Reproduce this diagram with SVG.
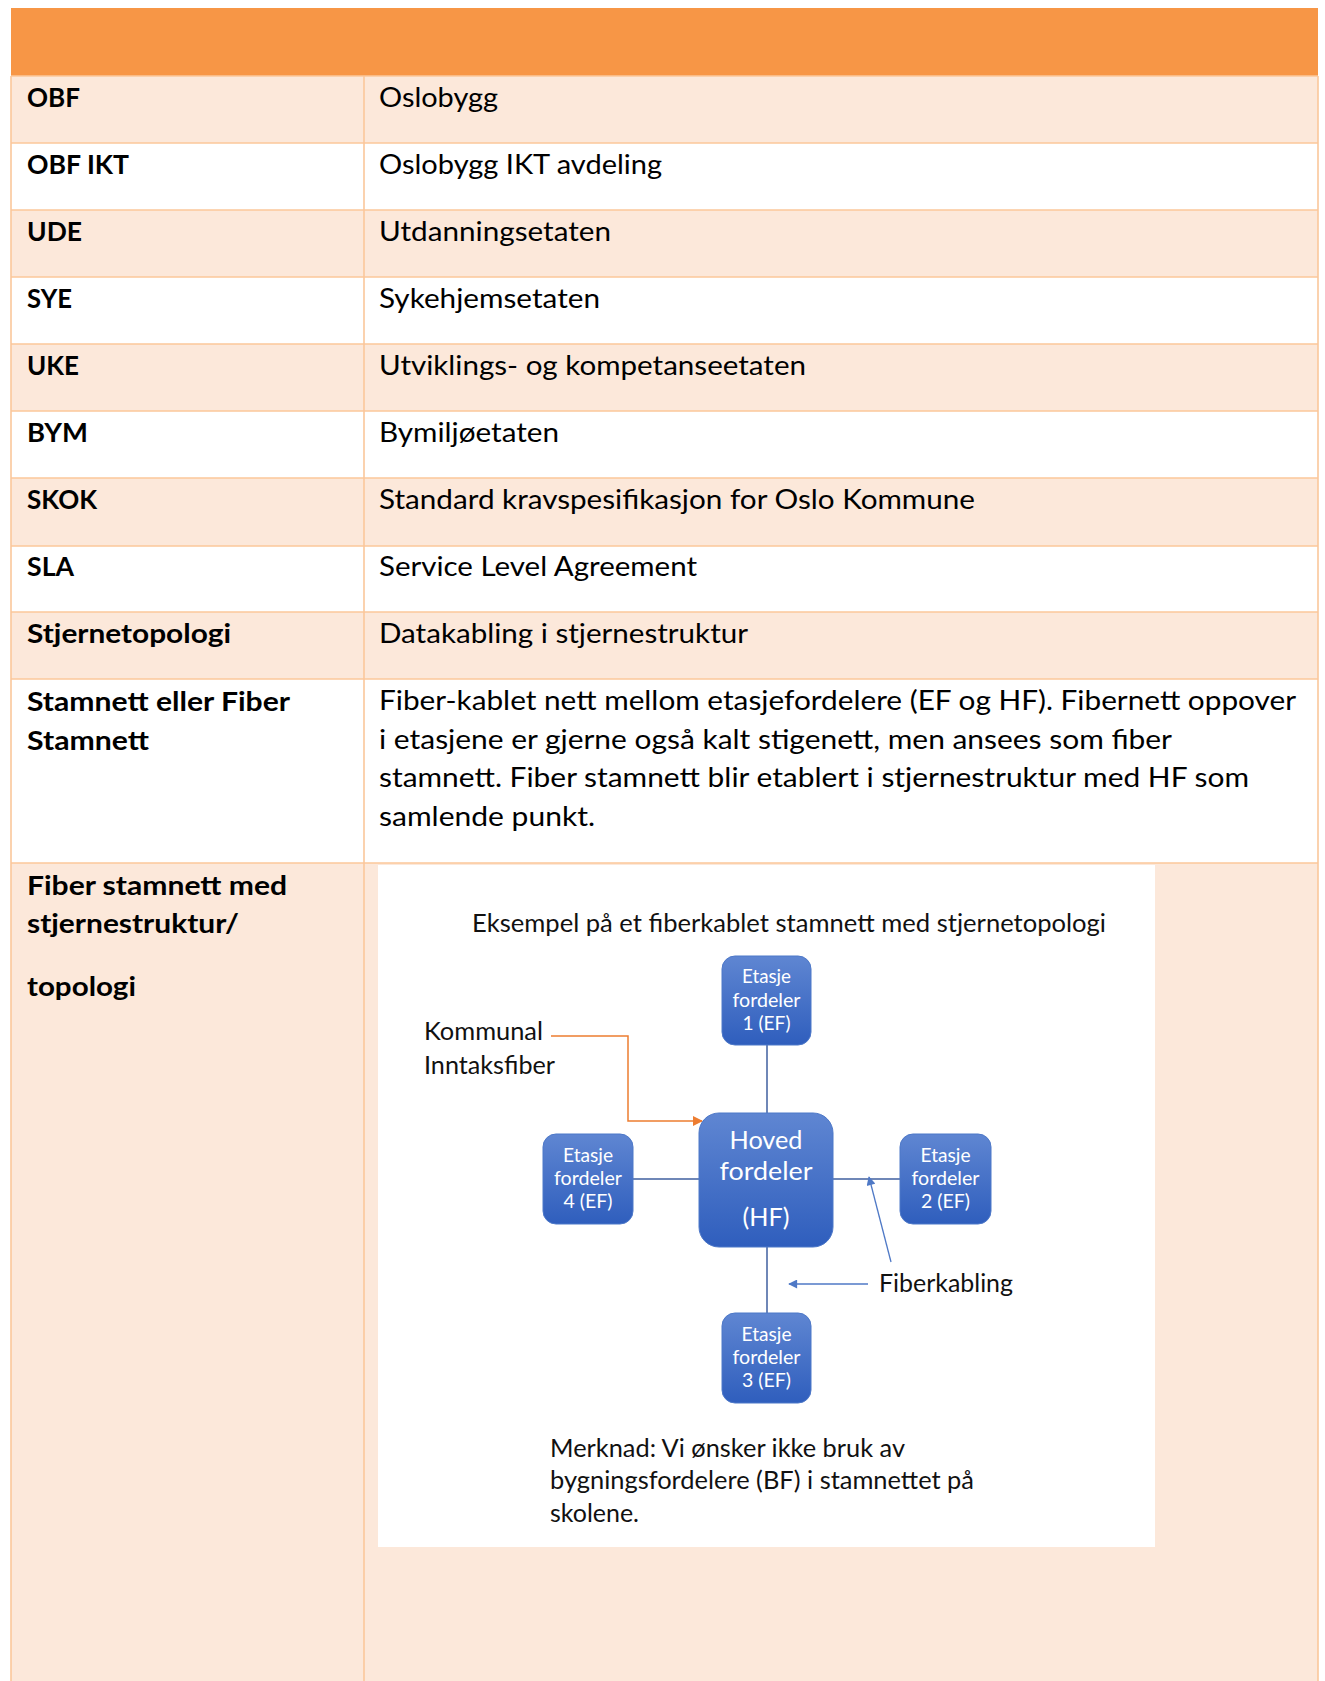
<svg xmlns="http://www.w3.org/2000/svg" width="1325" height="1681" viewBox="0 0 1325 1681">
<style>
.t{font-family:Lato,"Open Sans","Liberation Sans",sans-serif;font-size:26px;fill:#000}
.b{font-weight:bold}
.d{font-family:Lato,"Open Sans","Liberation Sans",sans-serif;font-size:24.5px;fill:#111}
.n{font-family:Lato,"Open Sans","Liberation Sans",sans-serif;font-size:20px;fill:#fff;text-anchor:middle}
.h{font-family:Lato,"Open Sans","Liberation Sans",sans-serif;font-size:25.5px;fill:#fff;text-anchor:middle}
.grid{stroke:#fbc79b;stroke-width:1.6;fill:none}
.box{fill:url(#bg);stroke:#4d78c8;stroke-width:1}
.con{stroke:#3f5f9f;stroke-width:1.5;fill:none}
.ann{stroke:#4f79c6;stroke-width:1.3;fill:none}
</style>
<defs>
<linearGradient id="bg" x1="0" y1="0" x2="0" y2="1">
<stop offset="0" stop-color="#5f86d2"/>
<stop offset="1" stop-color="#2f5ebd"/>
</linearGradient>
<marker id="ab" viewBox="0 0 10 10" refX="9" refY="5" markerWidth="10" markerHeight="9" markerUnits="userSpaceOnUse" orient="auto">
<path d="M0,0 L10,5 L0,10 Z" fill="#4f79c6"/>
</marker>
<marker id="ao" viewBox="0 0 10 10" refX="9" refY="5" markerWidth="11" markerHeight="10" markerUnits="userSpaceOnUse" orient="auto">
<path d="M0,0 L10,5 L0,10 Z" fill="#ed7d31"/>
</marker>
</defs>
<rect width="1325" height="1681" fill="#fff"/>
<g id="table">
<rect x="11" y="8" width="1307" height="68" fill="#f79646"/>
<g fill="#fce8da">
<rect x="11" y="76" width="1307" height="67"/>
<rect x="11" y="210" width="1307" height="67"/>
<rect x="11" y="344" width="1307" height="67"/>
<rect x="11" y="478" width="1307" height="68"/>
<rect x="11" y="612" width="1307" height="67"/>
<rect x="11" y="863" width="1307" height="818"/>
</g>
<rect x="378" y="865" width="777" height="682" fill="#fff"/>
<path class="grid" d="M11,76 H1318 M11,143 H1318 M11,210 H1318 M11,277 H1318 M11,344 H1318 M11,411 H1318 M11,478 H1318 M11,546 H1318 M11,612 H1318 M11,679 H1318 M11,863 H1318 M11,76 V1681 M364,76 V1681 M1318,76 V1681"/>
</g>
<g id="labels">
<text class="t b" x="27" y="107" textLength="53" lengthAdjust="spacingAndGlyphs">OBF</text>
<text class="t b" x="27" y="174" textLength="102" lengthAdjust="spacingAndGlyphs">OBF IKT</text>
<text class="t b" x="27" y="241" textLength="55" lengthAdjust="spacingAndGlyphs">UDE</text>
<text class="t b" x="27" y="308" textLength="45" lengthAdjust="spacingAndGlyphs">SYE</text>
<text class="t b" x="27" y="375" textLength="52" lengthAdjust="spacingAndGlyphs">UKE</text>
<text class="t b" x="27" y="442" textLength="61" lengthAdjust="spacingAndGlyphs">BYM</text>
<text class="t b" x="27" y="509" textLength="70" lengthAdjust="spacingAndGlyphs">SKOK</text>
<text class="t b" x="27" y="576" textLength="47" lengthAdjust="spacingAndGlyphs">SLA</text>
<text class="t b" x="27" y="643" textLength="204" lengthAdjust="spacingAndGlyphs">Stjernetopologi</text>
<text class="t b" x="27" y="711" textLength="263" lengthAdjust="spacingAndGlyphs">Stamnett eller Fiber</text>
<text class="t b" x="27" y="750" textLength="122" lengthAdjust="spacingAndGlyphs">Stamnett</text>
<text class="t b" x="27" y="895" textLength="260" lengthAdjust="spacingAndGlyphs">Fiber stamnett med</text>
<text class="t b" x="27" y="933" textLength="212" lengthAdjust="spacingAndGlyphs">stjernestruktur/</text>
<text class="t b" x="27" y="996" textLength="109" lengthAdjust="spacingAndGlyphs">topologi</text>
</g>
<g id="descriptions">
<text class="t" x="379" y="107" textLength="119" lengthAdjust="spacingAndGlyphs">Oslobygg</text>
<text class="t" x="379" y="174" textLength="283" lengthAdjust="spacingAndGlyphs">Oslobygg IKT avdeling</text>
<text class="t" x="379" y="241" textLength="232" lengthAdjust="spacingAndGlyphs">Utdanningsetaten</text>
<text class="t" x="379" y="308" textLength="221" lengthAdjust="spacingAndGlyphs">Sykehjemsetaten</text>
<text class="t" x="379" y="375" textLength="427" lengthAdjust="spacingAndGlyphs">Utviklings- og kompetanseetaten</text>
<text class="t" x="379" y="442" textLength="180" lengthAdjust="spacingAndGlyphs">Bymiljøetaten</text>
<text class="t" x="379" y="509" textLength="596" lengthAdjust="spacingAndGlyphs">Standard kravspesifikasjon for Oslo Kommune</text>
<text class="t" x="379" y="576" textLength="318" lengthAdjust="spacingAndGlyphs">Service Level Agreement</text>
<text class="t" x="379" y="643" textLength="369" lengthAdjust="spacingAndGlyphs">Datakabling i stjernestruktur</text>
<text class="t" x="379" y="710" textLength="917" lengthAdjust="spacingAndGlyphs">Fiber-kablet nett mellom etasjefordelere (EF og HF). Fibernett oppover</text>
<text class="t" x="379" y="749" textLength="793" lengthAdjust="spacingAndGlyphs">i etasjene er gjerne også kalt stigenett, men ansees som fiber</text>
<text class="t" x="379" y="787" textLength="870" lengthAdjust="spacingAndGlyphs">stamnett. Fiber stamnett blir etablert i stjernestruktur med HF som</text>
<text class="t" x="379" y="826" textLength="216" lengthAdjust="spacingAndGlyphs">samlende punkt.</text>
</g>
<g id="diagram-texts">
<text class="d" x="472" y="932" textLength="634" lengthAdjust="spacingAndGlyphs">Eksempel på et fiberkablet stamnett med stjernetopologi</text>
<text class="d" x="424" y="1040" textLength="119" lengthAdjust="spacingAndGlyphs">Kommunal</text>
<text class="d" x="424" y="1074" textLength="131" lengthAdjust="spacingAndGlyphs">Inntaksfiber</text>
<text class="d" x="879" y="1292" textLength="134" lengthAdjust="spacingAndGlyphs">Fiberkabling</text>
<text class="d" x="550" y="1457" font-size="23.5" textLength="355" lengthAdjust="spacingAndGlyphs">Merknad: Vi ønsker ikke bruk av</text>
<text class="d" x="550" y="1489" font-size="23.5" textLength="424" lengthAdjust="spacingAndGlyphs">bygningsfordelere (BF) i stamnettet på</text>
<text class="d" x="550" y="1522" font-size="23.5" textLength="89" lengthAdjust="spacingAndGlyphs">skolene.</text>
</g>
<g id="connectors">
<path class="con" d="M767,1045 V1113"/>
<path class="con" d="M633,1179 H699"/>
<path class="con" d="M833,1179 H900"/>
<path class="con" d="M767,1247 V1313"/>
<path d="M551,1036 H628 V1121 H702" stroke="#ed7d31" stroke-width="1.5" fill="none" marker-end="url(#ao)"/>
<path class="ann" d="M891,1262 L869,1177" marker-end="url(#ab)"/>
<path class="ann" d="M868,1284 H789" marker-end="url(#ab)"/>
</g>
<g id="ef1">
<rect class="box" x="722" y="956" width="89" height="89" rx="13"/>
<text class="n" x="766.5" y="983" textLength="49" lengthAdjust="spacingAndGlyphs">Etasje</text>
<text class="n" x="766.5" y="1007" textLength="68" lengthAdjust="spacingAndGlyphs">fordeler</text>
<text class="n" x="766.5" y="1030" textLength="48" lengthAdjust="spacingAndGlyphs">1 (EF)</text>
</g>
<g id="ef4">
<rect class="box" x="543" y="1134" width="90" height="90" rx="13"/>
<text class="n" x="588" y="1162" textLength="50" lengthAdjust="spacingAndGlyphs">Etasje</text>
<text class="n" x="588" y="1185" textLength="68" lengthAdjust="spacingAndGlyphs">fordeler</text>
<text class="n" x="588" y="1208" textLength="49" lengthAdjust="spacingAndGlyphs">4 (EF)</text>
</g>
<g id="ef2">
<rect class="box" x="900" y="1134" width="91" height="90" rx="13"/>
<text class="n" x="945.5" y="1162" textLength="50" lengthAdjust="spacingAndGlyphs">Etasje</text>
<text class="n" x="945.5" y="1185" textLength="68" lengthAdjust="spacingAndGlyphs">fordeler</text>
<text class="n" x="945.5" y="1208" textLength="49" lengthAdjust="spacingAndGlyphs">2 (EF)</text>
</g>
<g id="ef3">
<rect class="box" x="722" y="1313" width="89" height="90" rx="13"/>
<text class="n" x="766.5" y="1341" textLength="50" lengthAdjust="spacingAndGlyphs">Etasje</text>
<text class="n" x="766.5" y="1364" textLength="68" lengthAdjust="spacingAndGlyphs">fordeler</text>
<text class="n" x="766.5" y="1387" textLength="49" lengthAdjust="spacingAndGlyphs">3 (EF)</text>
</g>
<g id="hf">
<rect class="box" x="699" y="1113" width="134" height="134" rx="20"/>
<text class="h" x="766" y="1149" textLength="73" lengthAdjust="spacingAndGlyphs">Hoved</text>
<text class="h" x="766" y="1180" textLength="93" lengthAdjust="spacingAndGlyphs">fordeler</text>
<text class="h" x="766" y="1226" textLength="47" lengthAdjust="spacingAndGlyphs">(HF)</text>
</g>
</svg>
